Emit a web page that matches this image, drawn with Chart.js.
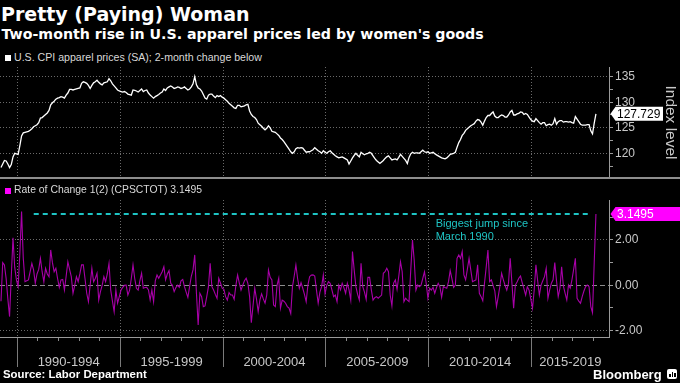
<!DOCTYPE html>
<html><head><meta charset="utf-8">
<script src="https://cdn.jsdelivr.net/npm/chart.js@4.4.1/dist/chart.umd.min.js"></script>
<style>
html,body{margin:0;padding:0;background:#000;width:680px;height:383px;overflow:hidden;position:relative;}
canvas{position:absolute;left:0;}
.t{position:absolute;white-space:nowrap;color:#fff;}
</style></head><body>
<canvas id="topChart" width="680" height="111" style="top:67px;width:680px;height:111px"></canvas>
<canvas id="botChart" width="680" height="170" style="top:200px;width:680px;height:170px"></canvas>
<div style="position:absolute;left:0;top:177px;width:680px;height:2px;background:#8e8e8e"></div>

<div class="t" style="left:1px;top:5px;font:bold 19px 'DejaVu Sans';line-height:19px">Pretty (Paying) Woman</div>
<div class="t" style="left:1.5px;top:27px;font:bold 14.2px 'DejaVu Sans';line-height:14.2px">Two-month rise in U.S. apparel prices led by women's goods</div>

<div style="position:absolute;left:5px;top:55px;width:6px;height:6px;background:#fff"></div>
<div class="t" style="left:14px;top:52.2px;font:10.6px 'Liberation Sans';line-height:10.6px;color:#d8d8d8">U.S. CPI apparel prices (SA); 2-month change below</div>
<div style="position:absolute;left:5px;top:187.5px;width:6px;height:6px;background:#ff00ff"></div>
<div class="t" id="leg2" style="left:14px;top:185.3px;font:10.4px 'Liberation Sans';line-height:10.4px;color:#d8d8d8"></div>

<div class="t" style="left:435.7px;top:217.5px;font:11px 'Liberation Sans';line-height:11px;color:#1ec4c4">Biggest jump since</div>
<div class="t" style="left:435.7px;top:230.7px;font:11px 'Liberation Sans';line-height:11px;color:#1ec4c4">March 1990</div>

<div class="t" style="left:3px;top:369px;font:bold 11.4px 'Liberation Sans';line-height:11.4px">Source: Labor Department</div>
<div class="t" style="left:593px;top:368px;font:bold 13px 'Liberation Sans';line-height:13px">Bloomberg</div>
<div style="position:absolute;left:667px;top:369px;width:10px;height:10px;background:#fff;border-radius:2px">
  <div style="position:absolute;left:2px;top:5px;width:1.5px;height:3px;background:#000"></div>
  <div style="position:absolute;left:4.5px;top:3px;width:1.5px;height:5px;background:#000"></div>
  <div style="position:absolute;left:7px;top:4px;width:1.5px;height:4px;background:#000"></div>
</div>

<script>
// ---- data (monthly, Mar 1989 .. Feb 2018) ----
const startYear = 1989;
const startMonth = 3;

const indexValues = [
  117.2,117.9,118.6,118.5,117.9,117.2,117.8,119.3,120.0,119.9,
  119.8,121.5,123.4,124.0,124.1,124.2,124.3,124.5,124.8,125.2,125.4,125.6,
  126.0,126.9,127.0,127.3,127.6,127.9,128.4,129.5,129.9,130.2,130.6,130.8,
  130.9,131.1,131.0,130.8,131.4,131.8,132.5,132.5,132.4,132.5,132.6,132.7,
  132.8,133.7,134.0,133.9,133.7,133.3,132.7,133.3,133.8,134.0,134.3,133.9,
  133.6,133.4,133.8,133.9,134.0,134.6,134.2,133.6,133.2,132.8,132.4,132.2,
  132.1,132.0,132.1,131.9,131.6,131.5,131.4,132.4,132.3,132.2,132.0,132.3,
  132.6,132.1,132.3,132.4,131.8,131.4,131.1,130.8,131.1,131.3,131.5,131.8,
  132.0,132.6,132.3,132.8,133.0,133.2,133.0,132.7,132.8,133.0,132.9,132.7,
  132.8,133.0,132.7,132.4,132.6,133.0,133.6,135.0,133.4,132.8,132.6,132.2,
  131.5,130.8,130.6,131.4,131.6,131.6,131.2,130.9,131.3,131.1,131.3,131.0,
  130.8,130.5,130.2,129.8,129.5,129.2,128.9,128.8,129.4,129.4,129.1,129.2,
  129.3,129.5,129.6,128.3,127.6,127.2,127.0,126.6,125.9,125.6,125.3,124.9,
  124.6,124.9,125.4,125.0,124.3,124.2,124.1,123.8,123.5,123.0,122.7,122.3,
  121.8,121.3,120.8,120.3,120.0,120.3,120.9,121.1,121.0,121.1,121.0,120.6,
  120.2,120.3,120.3,120.5,120.7,121.1,120.8,120.5,120.3,120.0,120.5,120.2,
  120.0,120.3,120.5,120.1,119.8,119.5,119.3,119.1,119.2,119.3,119.1,118.9,
  118.7,117.9,118.5,119.1,119.6,120.0,119.6,119.3,120.2,119.9,119.7,119.9,
  120.0,120.2,120.0,119.5,119.0,118.6,118.3,118.0,118.3,118.6,119.0,119.3,
  119.5,119.1,118.7,118.8,118.9,118.7,119.2,119.8,119.4,119.0,118.6,118.0,
  119.2,119.9,120.2,120.0,120.1,120.1,120.0,120.3,120.6,120.3,120.2,120.3,
  120.0,120.1,120.2,119.9,119.7,119.5,119.3,119.1,119.0,118.9,119.1,119.4,
  119.8,119.9,120.0,120.2,121.2,122.1,122.7,123.5,123.9,124.5,124.8,125.1,
  125.4,125.6,125.8,126.3,126.6,126.5,126.1,125.5,126.3,127.0,127.4,127.4,
  127.8,128.1,127.3,127.0,127.0,127.3,127.5,127.4,127.1,127.1,127.5,128.1,
  128.4,127.5,127.5,127.7,127.8,128.1,128.0,127.6,127.8,127.6,127.1,126.6,
  126.3,126.2,126.8,126.4,126.0,125.7,126.0,126.0,125.4,125.6,125.7,125.5,
  125.8,126.8,125.7,126.2,126.4,126.4,126.1,126.2,126.2,126.1,126.2,126.0,
  125.9,127.2,126.7,126.2,125.7,125.5,125.5,125.5,125.6,125.6,124.4,123.8,
  125.9,127.729
];

const rocValues = [
  -0.7,1.0,0.9,0.3,-0.6,-1.38,0.4,2.1,0.8,0.24,
  -0.06,1.4,3.25,1.2,0.16,0.2,0.24,0.6,0.97,0.68,0.09,0.5,
  0.7,1.19,0.6,0.16,0.75,0.5,0.38,1.56,1.0,0.6,0.75,0.3,
  -0.09,0.24,0.26,-0.21,0.4,1.04,0.7,0.38,-0.35,0.0,0.38,0.16,
  0.5,0.9,0.9,0.3,-0.35,-0.72,0.0,0.75,0.16,0.3,0.53,-0.65,
  -0.28,0.0,0.38,0.16,0.5,0.97,-0.21,-0.7,-1.16,-0.21,-0.79,-0.5,
  -0.21,-0.09,0.0,0.01,-0.43,-0.21,0.3,0.9,0.3,-0.13,-0.21,0.2,
  0.53,-0.13,-0.1,-0.09,-0.2,-0.65,-0.21,-0.72,0.2,0.46,0.31,0.45,
  0.6,0.82,0.24,0.5,0.65,0.09,0.0,-0.28,-0.1,0.01,-0.09,0.2,
  0.26,-0.06,-0.3,-0.53,-0.06,0.4,0.68,1.34,-0.35,-1.75,-0.35,-0.5,
  -0.94,-0.91,-0.5,-0.06,0.97,-0.06,-0.21,-0.4,-0.57,0.31,0.1,-0.13,
  -0.18,-0.5,-0.65,-0.32,-0.43,-0.43,-0.62,0.0,0.46,0.1,-0.21,0.01,
  0.2,0.31,0.09,-0.5,-1.65,-0.9,-0.13,-0.6,-1.16,-0.65,-0.38,-0.6,
  -0.79,-0.43,0.68,0.35,0.24,-0.87,-0.94,0.0,0.31,-1.01,-0.65,-0.7,
  -0.79,-0.94,-1.0,-1.24,-0.06,0.4,0.9,0.3,-0.13,0.12,-0.13,-0.4,
  -0.72,0.01,0.38,0.45,0.46,0.41,-0.21,-0.79,-0.3,-0.06,0.46,-0.38,
  0.0,0.16,0.09,-0.2,-0.5,-0.43,-0.72,0.01,-0.2,0.09,-0.1,-0.35,
  0.09,-0.2,-0.65,1.49,0.68,-0.06,-0.4,-0.65,0.97,-0.06,-0.3,-0.62,
  0.35,0.35,-0.2,-0.65,-0.55,-0.5,-0.57,-0.5,-0.43,0.53,0.6,0.75,
  0.6,-0.43,-0.91,0.1,0.24,-0.18,0.4,1.04,0.6,-0.72,-0.57,-0.65,
  -0.72,0.68,2.0,1.12,-0.21,0.01,-0.06,0.01,0.3,0.6,0.09,-0.57,
  -0.13,-0.21,-0.09,-0.35,-0.1,0.09,-0.06,-0.53,-0.06,-0.1,-0.13,0.16,
  0.65,0.3,-0.09,0.01,1.19,1.34,1.19,1.49,0.46,0.24,0.7,1.19,
  0.68,0.16,0.2,0.24,0.9,-0.35,-0.5,-0.68,0.09,0.8,1.56,0.16,
  0.24,0.0,-0.24,-0.94,-0.5,-0.03,0.53,0.24,0.0,-0.21,0.09,1.19,
  0.1,-1.01,0.01,0.15,0.31,0.41,0.12,-0.15,-0.43,-0.06,-0.21,-0.6,
  -1.01,-0.21,0.9,0.2,-0.43,0.01,0.2,0.38,0.75,-0.57,-0.2,0.09,
  0.24,1.0,0.2,-0.5,-0.13,0.82,-0.03,-0.35,-0.65,0.01,-0.13,0.24,
  0.7,1.19,-0.57,-0.7,-0.79,-0.5,-0.25,-0.06,0.01,-0.06,-0.94,-1.21,
  1.0,3.1495
];

const periodStarts = [1990, 1995, 2000, 2005, 2010, 2015];
const periodLabels = ['1990-1994', '1995-1999', '2000-2004', '2005-2009', '2010-2014', '2015-2019'];
const indexTicks = [117.5, 120, 122.5, 125, 127.5, 130, 132.5, 135];
const indexLabelTicks = [120, 125, 130, 135];
const rocTicks = [-2, -1, 0, 1, 2, 3];
const rocLabelTicks = [-2, 0, 2];
const jumpLineX = [1990.8, 2017.85];

// axis range
const xMin = 1989.16, xMax = 2018.76;
const yearTicks = [];
for (let y = 1990; y <= 2018; y++) yearTicks.push(y);

const xOf = i => startYear + (startMonth - 1 + i + 0.5) / 12;
const indexPts = indexValues.map((v, i) => ({x: xOf(i), y: v}));
const rocPts = rocValues.map((v, i) => ({x: xOf(i), y: v}));
const lastIndex = indexValues[indexValues.length - 1];
const lastRoc = rocValues[rocValues.length - 1];
document.getElementById('leg2').textContent = 'Rate of Change 1(2) (CPSCTOT) ' + lastRoc.toFixed(4);

Chart.defaults.font.family = "'Liberation Sans', Arial, sans-serif";
const GRID = '#6a6a6a', AXIS = '#9a9a9a', LBL = '#c8c8c8';
const noPad = s => { s.paddingTop = 0; s.paddingBottom = 0; s.paddingLeft = 0; s.paddingRight = 0; };

const valueBox = {
  id: 'valueBox',
  afterDatasetsDraw(chart, args, o) {
    const d = chart.data.datasets[0].data;
    const v = d[d.length - 1].y;
    const y = chart.scales.y.getPixelForValue(v);
    const x0 = chart.chartArea.right + 1.5;
    const ctx = chart.ctx;
    ctx.save();
    ctx.fillStyle = o.bg;
    ctx.beginPath();
    ctx.moveTo(x0, y);
    ctx.lineTo(x0 + 5, y - 7);
    ctx.lineTo(o.right, y - 7);
    ctx.lineTo(o.right, y + 7);
    ctx.lineTo(x0 + 5, y + 7);
    ctx.closePath();
    ctx.fill();
    ctx.fillStyle = o.fg;
    ctx.font = "12px 'Liberation Sans'";
    ctx.textBaseline = 'middle';
    ctx.textAlign = 'left';
    ctx.fillText(o.text, x0 + 6.5, y + 0.5);
    ctx.restore();
  }
};

new Chart(document.getElementById('topChart'), {
  type: 'line',
  data: { datasets: [{ data: indexPts, borderColor: '#ffffff', borderWidth: 1.3, pointRadius: 0, tension: 0, xAxisID: 'x', yAxisID: 'y' }] },
  options: {
    responsive: false, animation: false, devicePixelRatio: 1,
    layout: { padding: 0 },
    plugins: { legend: { display: false }, tooltip: { enabled: false },
      valueBox: { bg: '#ffffff', fg: '#000000', right: 663, text: lastIndex.toFixed(3) } },
    scales: {
      x: {
        type: 'linear', min: xMin, max: xMax,
        afterBuildTicks: s => { s.ticks = periodStarts.map(v => ({value: v})); },
        ticks: { display: false },
        grid: { color: GRID, lineWidth: 1, drawTicks: false },
        border: { display: false, dash: [1, 2] },
        afterFit: s => { s.height = 0; noPad(s); }
      },
      y: {
        type: 'linear', position: 'right', min: 115.16, max: 136.9,
        afterBuildTicks: s => { s.ticks = indexTicks.map(v => ({value: v})); },
        ticks: { autoSkip: false, color: LBL, font: { size: 12 }, padding: 2,
          callback: v => indexLabelTicks.includes(v) ? String(v) : '' },
        grid: { color: c => (c.tick && indexLabelTicks.includes(c.tick.value)) ? GRID : 'rgba(0,0,0,0)',
          tickColor: AXIS, tickLength: 4, tickBorderDash: [] },
        border: { display: true, color: AXIS, width: 1, dash: [1, 2] },
        title: { display: true, text: 'Index level', color: LBL, font: { size: 15.5 }, padding: { top: 0, bottom: 0 } },
        afterFit: s => { s.width = 71; noPad(s); }
      }
    }
  },
  plugins: [valueBox]
});

new Chart(document.getElementById('botChart'), {
  type: 'line',
  data: { datasets: [
    { data: rocPts, borderColor: '#a800a8', borderWidth: 1.1, pointRadius: 0, tension: 0, xAxisID: 'x', yAxisID: 'y' },
    { data: jumpLineX.map(x => ({x: x, y: lastRoc})), borderColor: '#1ec4c4', borderWidth: 2, borderDash: [5, 4], pointRadius: 0, xAxisID: 'x', yAxisID: 'y' }
  ] },
  options: {
    responsive: false, animation: false, devicePixelRatio: 1,
    layout: { padding: 0 },
    plugins: { legend: { display: false }, tooltip: { enabled: false },
      valueBox: { bg: '#ff00ff', fg: '#ffffff', right: 680, text: lastRoc.toFixed(4) } },
    scales: {
      xm: {
        type: 'linear', position: 'bottom', weight: 0, min: xMin, max: xMax,
        afterBuildTicks: s => { s.ticks = yearTicks.map(v => ({value: v})); },
        ticks: { display: false },
        grid: { drawOnChartArea: false, tickLength: 4, tickColor: '#8a8a8a', color: '#8a8a8a' },
        border: { display: false },
        afterFit: s => { s.height = 0; noPad(s); }
      },
      x: {
        type: 'linear', position: 'bottom', weight: 1, min: xMin, max: xMax,
        afterBuildTicks: s => {
          const t = [];
          periodStarts.forEach(p => { t.push({value: p}); t.push({value: (p + Math.min(p + 5, xMax)) / 2}); });
          s.ticks = t;
        },
        ticks: { autoSkip: false, maxRotation: 0, minRotation: 0, color: LBL, font: { size: 13 }, padding: -12,
          callback: (v, i) => (i % 2 === 1) ? periodLabels[(i - 1) / 2] : '' },
        grid: { color: c => (c.index % 2 === 0) ? GRID : 'rgba(0,0,0,0)',
          tickColor: c => (c.index % 2 === 0) ? '#7a7a7a' : 'rgba(0,0,0,0)',
          tickLength: 30, tickBorderDash: [] },
        border: { display: true, color: AXIS, width: 1, dash: [1, 2] },
        afterFit: s => { s.height = 33; noPad(s); }
      },
      y: {
        type: 'linear', position: 'right', min: -2.28, max: 3.763,
        afterBuildTicks: s => { s.ticks = rocTicks.map(v => ({value: v})); },
        ticks: { autoSkip: false, color: LBL, font: { size: 12 }, padding: 2,
          callback: v => rocLabelTicks.includes(v) ? v.toFixed(2) : '' },
        grid: { color: c => !c.tick ? GRID : (c.tick.value === 0 ? '#8c8c8c' : (rocLabelTicks.includes(c.tick.value) ? GRID : 'rgba(0,0,0,0)')),
          tickColor: AXIS, tickLength: 4, tickBorderDash: [] },
        border: { display: true, color: AXIS, width: 1, dash: c => (c.tick && c.tick.value === 0) ? [5, 3] : [1, 2] },
        afterFit: s => { s.width = 71; noPad(s); }
      }
    }
  },
  plugins: [valueBox]
});
</script>
</body></html>
